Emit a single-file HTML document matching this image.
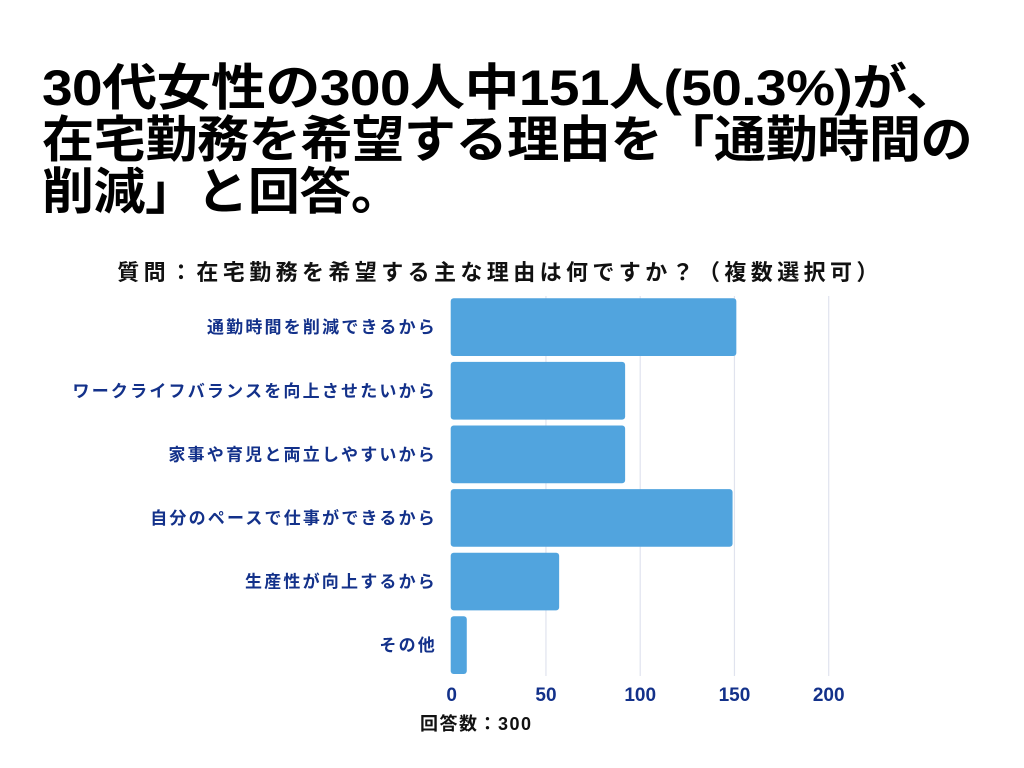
<!DOCTYPE html>
<html><head><meta charset="utf-8"><style>
body{margin:0;width:1024px;height:768px;background:#fff;overflow:hidden;font-family:"Liberation Sans","Noto Sans CJK JP",sans-serif}
#title{position:absolute;left:42px;top:62px;font-size:50px;font-weight:bold;line-height:52px;color:#000;letter-spacing:-0.5px;margin:0}
#title span{display:inline-block;transform-origin:left center;white-space:nowrap}
#sub{position:absolute;left:0;width:1000px;top:255px;text-align:center;font-size:22px;font-weight:bold;color:#111;letter-spacing:4.4px}
</style></head><body>
<h1 id="title"><span style="transform:scaleX(1.10)">30代女性の300人中151人(50.3%)が、</span><br><span style="transform:scaleX(1.044)">在宅勤務を希望する理由を「通勤時間の</span><br><span style="transform:scaleX(1.04)">削減」と回答。</span></h1>
<div id="sub">質問：在宅勤務を希望する主な理由は何ですか？（複数選択可）</div>
<svg id="chart" width="1024" height="768" style="position:absolute;left:0;top:0"></svg>
<script>
const categories=["通勤時間を削減できるから","ワークライフバランスを向上させたいから","家事や育児と両立しやすいから","自分のペースで仕事ができるから","生産性が向上するから","その他"];
const values=[151,92,92,149,57,8];
const ticks=[0,50,100,150,200];
const svg=document.getElementById('chart');
const NS='http://www.w3.org/2000/svg';
const x0=451.7,xs=(828.7-451.7)/200;
const x=v=>x0+v*xs;
const top0=298.3,pitch=63.6,bh=57.7;
function mk(t,a){const e=document.createElementNS(NS,t);for(const k in a)e.setAttribute(k,a[k]);svg.appendChild(e);return e;}
ticks.forEach(t=>{
 if(t>0){const g=mk('line',{x1:x(t),x2:x(t),y1:296,y2:676,stroke:'#e0e3ee','stroke-width':1.2});
 
 }
 const l=mk('text',{x:x(t),y:701,'text-anchor':'middle','font-size':19,'font-weight':'bold',fill:'#13318a'});
 l.textContent=t;
 
 
});
categories.forEach((c,i)=>{
 const y=top0+i*pitch;
 const r=mk('rect',{x:x0-1,y:y,width:x(values[i])-x0+1,height:bh,rx:3,fill:'#51a4de'});
 
 
 const t=mk('text',{x:437,y:y+bh/2+6,'text-anchor':'end','font-size':17,'font-weight':'bold',fill:'#13318a','letter-spacing':2.2});
 t.textContent=c;
 
 
});
const n=mk('text',{x:420,y:730,'font-size':18,'font-weight':'bold',fill:'#111','letter-spacing':1.5});
n.textContent='回答数：300';


</script>
</body></html>
